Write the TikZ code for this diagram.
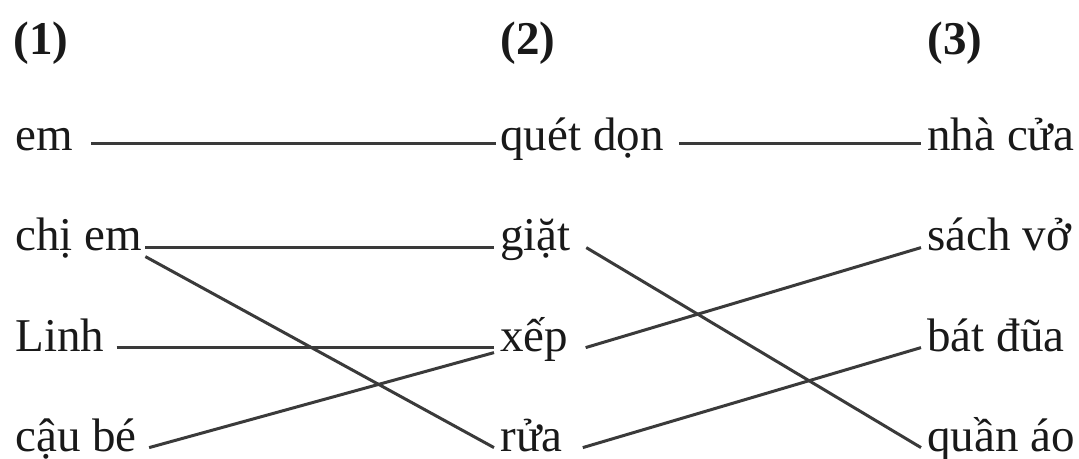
\documentclass[tikz,border=0pt]{standalone}
\usepackage{fontspec}
\setmainfont{Liberation Serif}
\usetikzlibrary{positioning}
\definecolor{linkgray}{HTML}{3A3A3A}
\tikzset{word/.style={anchor=base west, inner sep=0pt, text height=0.6em, text depth=0.26em, font=\fontsize{23.5}{28}\selectfont, text=black!90},
	head/.style={word, font=\fontsize{23.5}{28}\selectfont\bfseries},
	link/.style={draw=linkgray, line width=1.5pt}}

\begin{document}
\begin{tikzpicture}[x=0.5pt,y=-0.5pt]
\useasboundingbox (0,0) rectangle (1079,459);
% column heads
\node[head] (h1) at (13,55) {(1)};
\node[head] (h2) at (500,55) {(2)};
\node[head] (h3) at (927,55) {(3)};
% column (1)
\node[word] (em) at (15,151) {em};
\node[word] (chiem) at (15,251) {chị em};
\node[word] (linh) at (15,351) {Linh};
\node[word] (caube) at (15,451) {cậu bé};
% column (2)
\node[word] (quetdon) at (500,151) {quét dọn};
\node[word] (giat) at (500,251) {giặt};
\node[word] (xep) at (500,351) {xếp};
\node[word] (rua) at (500,451) {rửa};
% column (3)
\node[word] (nhacua) at (927,151) {nhà cửa};
\node[word] (sachvo) at (927,251) {sách vở};
\node[word] (batdua) at (927,351) {bát đũa};
\node[word] (quanao) at (927,451) {quần áo};
% (1) -- (2)
\draw[link] ([xshift=9pt,yshift=2pt]em.east) -- ([xshift=-2pt,yshift=2pt]quetdon.west);
\draw[link] ([xshift=1.5pt]chiem.east) -- ([xshift=-3pt]giat.west);
\draw[link] ([xshift=1.5pt]chiem.south east) -- ([xshift=-3pt]rua.west);
\draw[link] ([xshift=6pt]linh.east) -- ([xshift=-3pt]xep.west);
\draw[link] ([xshift=6pt]caube.east) -- ([xshift=-3pt,yshift=2pt]xep.south west);
% (2) -- (3)
\draw[link] ([xshift=7.5pt,yshift=2pt]quetdon.east) -- ([xshift=-3pt,yshift=2pt]nhacua.west);
\draw[link] ([xshift=7.5pt]giat.east) -- ([xshift=-3pt]quanao.west);
\draw[link] ([xshift=8.5pt]xep.east) -- ([xshift=-3pt]sachvo.west);
\draw[link] ([xshift=10pt]rua.east) -- ([xshift=-3pt]batdua.west);
\end{tikzpicture}
\end{document}
